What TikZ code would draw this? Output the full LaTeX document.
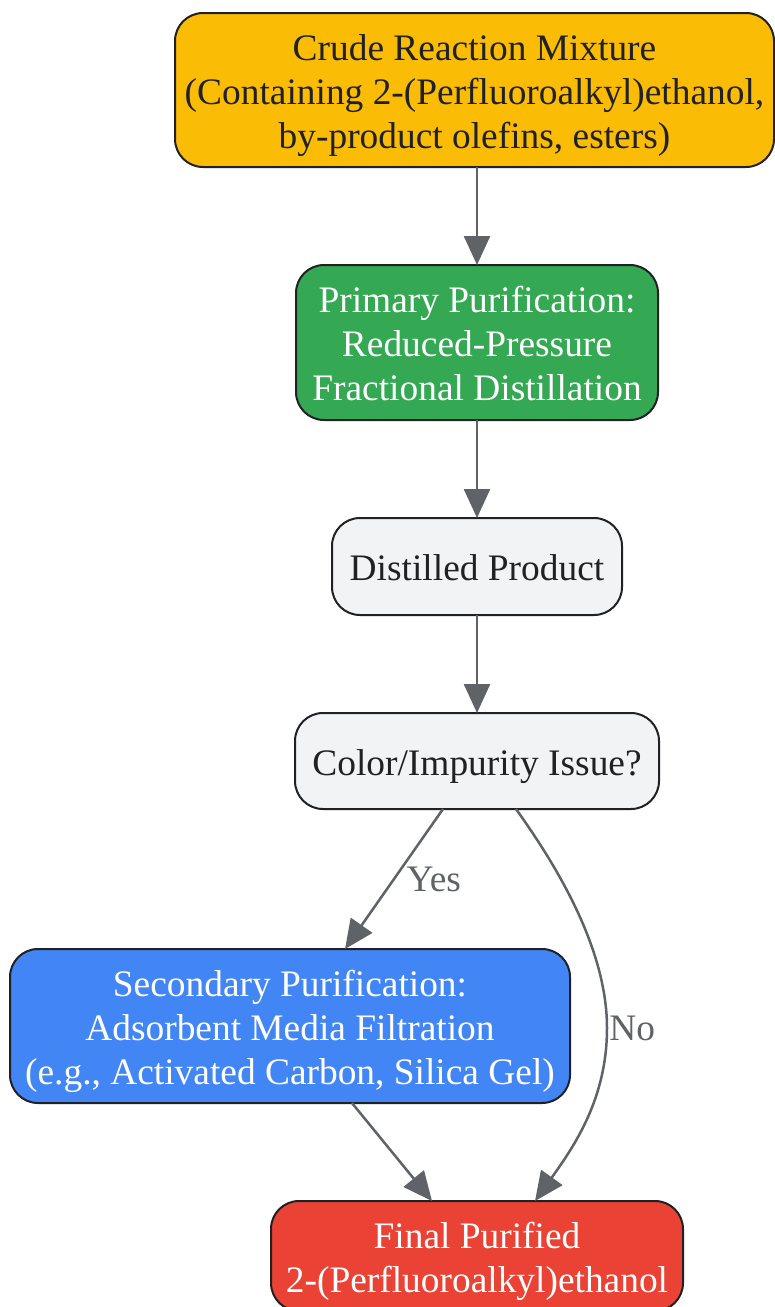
\documentclass[tikz,border=0pt]{standalone}
\usepackage{fontspec}
\setmainfont{Liberation Serif}
\usetikzlibrary{arrows.meta, positioning}
\usepackage{xcolor}
\definecolor{gyellow}{HTML}{FBBC05}
\definecolor{ggreen}{HTML}{34A853}
\definecolor{ggray}{HTML}{F1F3F4}
\definecolor{gblue}{HTML}{4285F4}
\definecolor{gred}{HTML}{EA4335}
\definecolor{gdark}{HTML}{202124}
\definecolor{gedge}{HTML}{5F6368}
\newcommand{\lstrut}{\rule[-7.7pt]{0pt}{44pt}}

\begin{document}
\begin{tikzpicture}[
x=1pt, y=1pt,
node distance=98pt,
box/.style={draw=gdark, rectangle, rounded corners=28pt,
line width=2pt, inner xsep=4pt, inner ysep=0pt, outer sep=0pt, text=gdark,
font=\fontsize{37.4pt}{44pt}\selectfont,
execute at end node=\lstrut,
align=center},
arrow/.style={-{Triangle[length=29pt,width=26pt]}, line width=2.5pt, draw=gedge},
lbl/.style={text=gedge, font=\fontsize{37.4pt}{44pt}\selectfont}
]

\useasboundingbox (0,0) rectangle (775,-1307);

\node[box, fill=gyellow, minimum width=599pt, minimum height=154pt] (crude) at (474.5,-90)
{\lstrut Crude Reaction Mixture\\(Containing 2-(Perfluoroalkyl)ethanol,\\by-product olefins, esters)};
\node[box, fill=ggreen, text=white, minimum width=362pt, minimum height=155pt,
below=of crude, xshift=2.5pt] (primary)
{\lstrut Primary Purification:\\Reduced-Pressure\\Fractional Distillation};
\node[box, fill=ggray, minimum width=290pt, minimum height=97pt, below=of primary] (distilled)
{Distilled Product};
\node[box, fill=ggray, minimum width=364pt, minimum height=96pt, below=of distilled] (issue)
{Color/Impurity Issue?};
\node[box, fill=gblue, text=white, minimum width=560pt, minimum height=154pt,
below=140pt of issue, xshift=-187pt] (secondary)
{\lstrut Secondary Purification:\\Adsorbent Media Filtration\\(e.g., Activated Carbon, Silica Gel)};
\node[box, fill=gred, text=white, minimum width=412pt, minimum height=110pt,
below=of secondary, xshift=187pt] (final)
{\lstrut Final Purified\\2-(Perfluoroalkyl)ethanol};

\draw[arrow] (primary.north |- crude.south) -- (primary.north);
\draw[arrow] (primary) -- (distilled);
\draw[arrow] (distilled) -- (issue);
\draw[arrow] ([xshift=-34pt]issue.south) -- node[lbl, right=8pt] {Yes} ([xshift=55pt]secondary.north);
\draw[arrow] ([xshift=39pt]issue.south) .. controls +(40,-56) and +(0,80) .. ([xshift=130pt,yshift=-219pt]issue.south)
node[lbl, anchor=west, inner xsep=1pt] {No}
.. controls +(0,-70) and +(40,56) .. ([xshift=58pt]final.north);
\draw[arrow] ([xshift=62pt]secondary.south) -- ([xshift=-45pt]final.north);

\end{tikzpicture}
\end{document}
